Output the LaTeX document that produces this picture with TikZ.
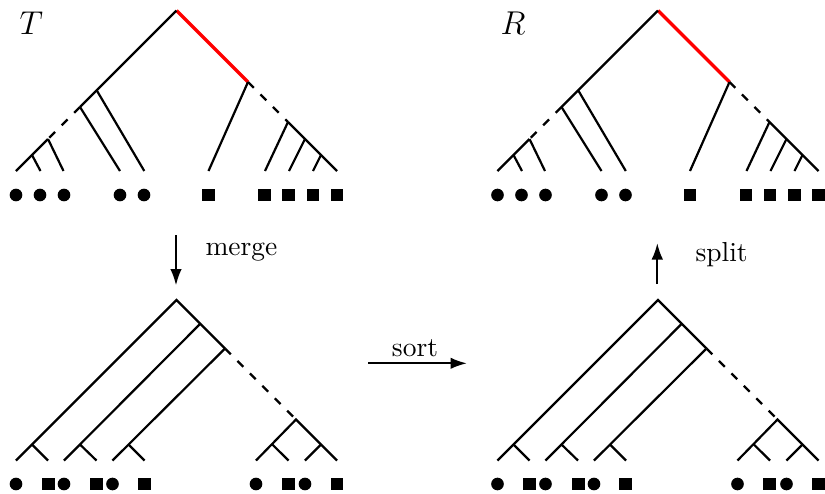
\documentclass[tikz,border=0pt]{standalone}
\usetikzlibrary{arrows.meta}
\tikzset{
  edge/.style={line width=0.8pt},
  dashedge/.style={edge, dash pattern=on 3pt off 3.4pt},
  rededge/.style={line width=1.25pt, red},
  dotmark/.style={circle, fill, draw=none, inner sep=0pt, minimum size=4.6pt},
  sqmark/.style={rectangle, fill, draw=none, inner sep=0pt, minimum size=4.6pt},
  arr/.style={line width=0.8pt, -{Latex[length=6pt,width=4.2pt]}},
  lbl/.style={inner sep=0pt, anchor=base west},
}
% top tree (T / R), #1 = name prefix
\newcommand\mytoptree[1]{%
  \coordinate (#1r) at (176.5,10.5);
  \coordinate (#1a1) at (96.7,90.3);
  \coordinate (#1a2) at (80,107);
  \coordinate (#1a3) at (48,139);
  \coordinate (#1a4) at (32,155);
  \coordinate (#1b1) at (248,82);
  \coordinate (#1b2) at (288,122);
  \coordinate (#1b3) at (305,139);
  \coordinate (#1b4) at (321,155);
  \foreach \n/\x in {1/16,2/40.5,3/63.5,4/120,5/144.3,6/208.5,7/265,8/289,9/313,10/337}
    {\coordinate (#1l\n) at (\x,171);}
  \draw[rededge] (#1r) -- (#1b1);
  \draw[edge] (#1r) -- (#1a1) -- (#1a2);
  \draw[dashedge] (#1a2) -- (#1a3);
  \draw[edge] (#1a3) -- (#1a4) -- (#1l1);
  \draw[edge] (#1a4) -- (#1l2);
  \draw[edge] (#1a3) -- (#1l3);
  \draw[edge] (#1a2) -- (#1l4);
  \draw[edge] (#1a1) -- (#1l5);
  \draw[edge] (#1b1) -- (#1l6);
  \draw[dashedge] (#1b1) -- (#1b2);
  \draw[edge] (#1b2) -- (#1b3) -- (#1b4) -- (#1l10);
  \draw[edge] (#1b2) -- (#1l7);
  \draw[edge] (#1b3) -- (#1l8);
  \draw[edge] (#1b4) -- (#1l9);
  \foreach \n/\x in {1/16,2/40,3/64,4/120,5/144}
    {\node[dotmark] (#1d\n) at (\x,195) {};}
  \foreach \n/\x in {6/208.5,7/264.5,8/288.5,9/313,10/337}
    {\node[sqmark] (#1d\n) at (\x,195) {};}
}
% bottom (merged / sorted) tree
\newcommand\mybottree[1]{%
  \coordinate (#1r) at (176.5,300);
  \coordinate (#1m1) at (16,460.5);
  \coordinate (#1c1) at (200.25,323.75);
  \coordinate (#1c2) at (225,348.5);
  \coordinate (#1c3) at (296,419.5);
  \coordinate (#1m10) at (337,460.5);
  \coordinate (#1p1) at (32,444.5);
  \coordinate (#1m2) at (48,460.5);
  \coordinate (#1m3) at (64,460.5);
  \coordinate (#1p2) at (80,444.5);
  \coordinate (#1m4) at (96.5,460.5);
  \coordinate (#1m5) at (112.5,460.5);
  \coordinate (#1p3) at (128.5,444.5);
  \coordinate (#1m6) at (144.5,460.5);
  \coordinate (#1m7) at (256,460.5);
  \coordinate (#1p4) at (272,444.1);
  \coordinate (#1m8) at (288.5,460.5);
  \coordinate (#1p5) at (321,444.5);
  \coordinate (#1m9) at (305,460.5);
  \draw[edge] (#1m1) -- (#1r) -- (#1c1) -- (#1c2);
  \draw[edge] (#1p1) -- (#1m2);
  \draw[edge] (#1c1) -- (#1m3);
  \draw[edge] (#1p2) -- (#1m4);
  \draw[edge] (#1c2) -- (#1m5);
  \draw[edge] (#1p3) -- (#1m6);
  \draw[dashedge] (#1c2) -- (#1c3);
  \draw[edge] (#1m7) -- (#1c3) -- (#1m10);
  \draw[edge] (#1p4) -- (#1m8);
  \draw[edge] (#1p5) -- (#1m9);
  \foreach \n/\x in {1/16,3/64,5/112.5,7/256,9/305}
    {\node[dotmark] (#1e\n) at (\x,484) {};}
  \foreach \n/\x in {2/48.3,4/96.7,6/144.3,8/288.3,10/337}
    {\node[sqmark] (#1e\n) at (\x,484) {};}
}
\begin{document}
\begin{tikzpicture}[x=0.36364pt, y=-0.36364pt]
  \useasboundingbox (0,0) rectangle (825,493);
  \mytoptree{T}
  \begin{scope}[shift={(481.5,0)}]
    \mytoptree{R}
  \end{scope}
  \mybottree{M}
  \begin{scope}[shift={(481.5,0)}]
    \mybottree{S}
  \end{scope}
  \node[lbl] (tlabel) at (19,34) {\large $T$};
  \node[lbl] (rlabel) at (500,34) {\large $R$};
  % arrows
  \coordinate (mA) at (176,235);
  \coordinate (mB) at (176,285.5);
  \draw[arr] (mA) -- (mB);
  \node[lbl] (mergelbl) at (205,255) {merge};
  \coordinate (sA) at (368,363.3);
  \coordinate (sB) at (467,363.3);
  \draw[arr] (sA) -- (sB);
  \node[inner sep=0pt, anchor=base] (sortlbl) at (415,356.7) {sort};
  \coordinate (pA) at (657.3,284);
  \coordinate (pB) at (657.3,243);
  \draw[arr] (pA) -- (pB);
  \node[lbl] (splitlbl) at (695,261.7) {split};
\end{tikzpicture}
\end{document}
